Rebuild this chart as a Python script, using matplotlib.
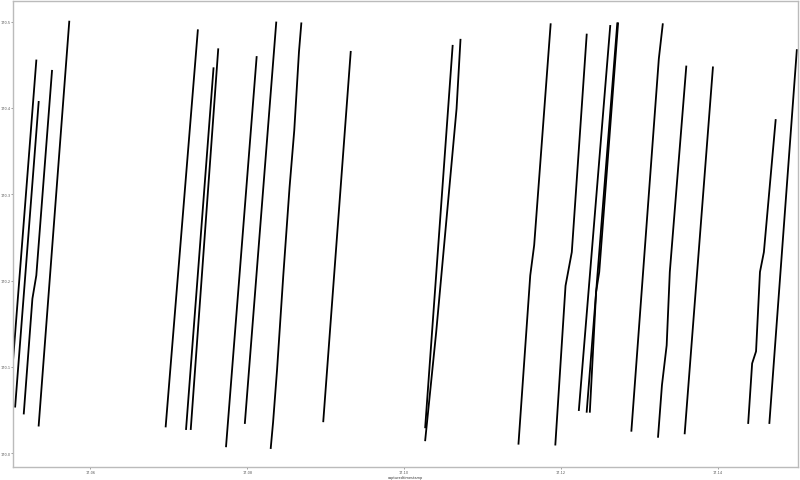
import matplotlib
matplotlib.use('Agg')
from matplotlib import pyplot as plt
import numpy as np

# one list per run: capture time and reading
times = [
    [17.0496, 17.0501, 17.0531],
    [17.0504, 17.0534],
    [17.0515, 17.0526, 17.0531, 17.0551],
    [17.0534, 17.0573],
    [17.0696, 17.0712, 17.0737],
    [17.0722, 17.0757],
    [17.0728, 17.0763],
    [17.0773, 17.0812],
    [17.0797, 17.0837],
    [17.0830, 17.0833, 17.0838, 17.0846, 17.0854, 17.0860, 17.0866, 17.0869],
    [17.0897, 17.0932],
    [17.1027, 17.1062],
    [17.1027, 17.1041, 17.1067, 17.1072],
    [17.1146, 17.1161, 17.1166, 17.1187],
    [17.1193, 17.1206, 17.1214, 17.1233],
    [17.1223, 17.1263],
    [17.1233, 17.1272],
    [17.1237, 17.1245, 17.1249, 17.1273],
    [17.1290, 17.1325, 17.1330],
    [17.1324, 17.1329, 17.1335, 17.1339, 17.1360],
    [17.1358, 17.1394],
    [17.1439, 17.1444, 17.1449, 17.1454, 17.1459, 17.1474],
    [17.1466, 17.1501],
]
values = [
    [170.043, 170.104, 170.455],
    [170.054, 170.407],
    [170.046, 170.179, 170.206, 170.443],
    [170.032, 170.500],
    [170.031, 170.210, 170.490],
    [170.028, 170.446],
    [170.028, 170.468],
    [170.008, 170.459],
    [170.035, 170.499],
    [170.006, 170.036, 170.096, 170.206, 170.308, 170.374, 170.465, 170.498],
    [170.037, 170.465],
    [170.030, 170.472],
    [170.015, 170.140, 170.399, 170.479],
    [170.011, 170.206, 170.241, 170.497],
    [170.010, 170.194, 170.233, 170.485],
    [170.050, 170.495],
    [170.048, 170.498],
    [170.048, 170.187, 170.210, 170.498],
    [170.026, 170.457, 170.497],
    [170.019, 170.079, 170.125, 170.210, 170.448],
    [170.023, 170.447],
    [170.035, 170.104, 170.118, 170.210, 170.233, 170.386],
    [170.035, 170.467],
]
x_ticks = [17.06, 17.08, 17.10, 17.12, 17.14]
y_ticks = [170.0, 170.1, 170.2, 170.3, 170.4, 170.5]

fig = plt.figure(figsize=(8, 4.81), dpi=100)
ax = fig.add_axes([0.016, 0.027, 0.981, 0.969])

for t, v in zip(times, values):
    ax.plot(t, v, color='black', linewidth=1.3)

ax.set_xlim(17.0501, 17.1502)
ax.set_ylim(169.984, 170.524)
ax.set_xticks(x_ticks)
ax.set_xticklabels(['%.2f' % x for x in x_ticks])
ax.set_yticks(y_ticks)
ax.set_yticklabels(['%.1f' % y for y in y_ticks])
ax.tick_params(labelsize=2.5, length=1.2, width=0.4, pad=0.6, colors='#555555')
ax.set_xlabel('capturedtimestamp', fontsize=2.5, labelpad=1, color='#333333')

for s in ax.spines.values():
    s.set_color('#bbbbbb')
    s.set_linewidth(1.0)

fig.savefig('out.png', dpi=100)
